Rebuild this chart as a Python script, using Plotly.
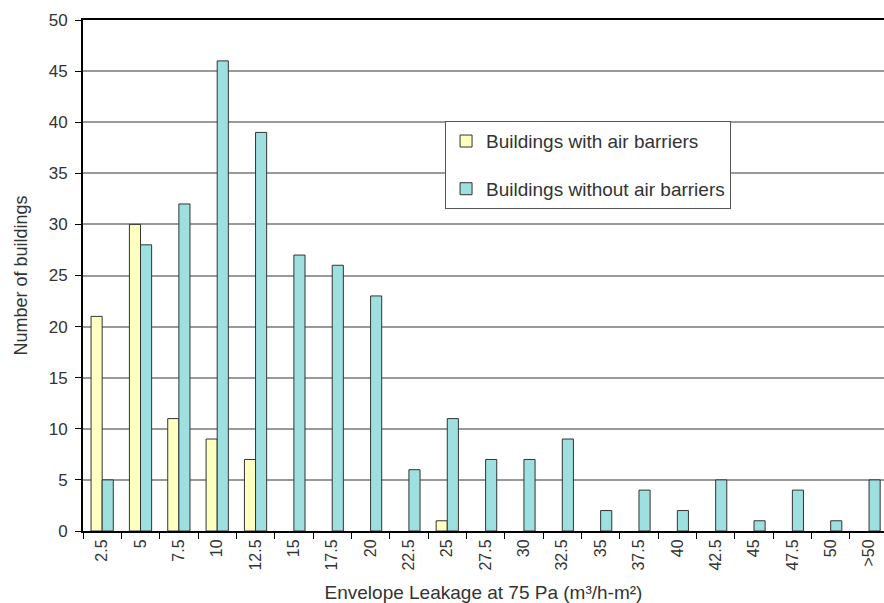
import plotly.graph_objects as go

categories = ["2.5", "5", "7.5", "10", "12.5", "15", "17.5", "20", "22.5", "25",
              "27.5", "30", "32.5", "35", "37.5", "40", "42.5", "45", "47.5", "50", ">50"]
with_barriers = [21, 30, 11, 9, 7, 0, 0, 0, 0, 1, 0, 0, 0, 0, 0, 0, 0, 0, 0, 0, 0]
without_barriers = [5, 28, 32, 46, 39, 27, 26, 23, 6, 11, 7, 7, 9, 2, 4, 2, 5, 1, 4, 1, 5]

font_family = "Liberation Sans, Arial, sans-serif"
text_color = "#333333"


def outline_widths(values):
    return [1 if v > 0 else 0 for v in values]


fig = go.Figure()
fig.add_trace(go.Bar(
    x=categories, y=with_barriers, name="Buildings with air barriers",
    marker=dict(color="#FFFFC0",
                line=dict(color="#333333", width=outline_widths(with_barriers))),
    legendgroup="a",
))
fig.add_trace(go.Bar(
    x=categories, y=without_barriers, name="Buildings without air barriers",
    marker=dict(color="#9EE0E0",
                line=dict(color="#333333", width=outline_widths(without_barriers))),
    legendgroup="b",
))

fig.update_layout(
    width=884, height=603,
    margin=dict(l=83, r=0, t=20, b=72, autoexpand=False),
    paper_bgcolor="white", plot_bgcolor="white",
    barmode="group", bargap=0.42, bargroupgap=0.0,
    font=dict(family=font_family, size=16, color=text_color),
    legend=dict(
        x=0.452, y=0.802, xanchor="left", yanchor="top",
        bgcolor="white", bordercolor="#555555", borderwidth=1,
        font=dict(size=19, color=text_color),
        traceorder="grouped", tracegroupgap=20,
    ),
    xaxis=dict(
        type="category", range=[-0.5, 20.39], automargin=False,
        showline=True, linecolor="black", linewidth=2, mirror=True,
        ticks="outside", tickson="boundaries", ticklen=6, tickcolor="black",
        tickangle=-90, showgrid=False,
        title=dict(text="Envelope Leakage at 75 Pa (m³/h-m²)", standoff=16,
                   font=dict(size=19)),
        tickfont=dict(size=16),
    ),
    yaxis=dict(
        range=[0, 50], dtick=5, automargin=False,
        showline=True, linecolor="black", linewidth=2,
        ticks="outside", ticklen=6, tickcolor="black",
        ticklabelstandoff=4,
        showgrid=True, gridcolor="#999999", gridwidth=1.5,
        zeroline=False,
        title=dict(text="Number of buildings", standoff=16, font=dict(size=18)),
        tickfont=dict(size=17),
    ),
)

fig.write_html("out.html", config={"displayModeBar": False},
               post_script="document.body.style.margin='0';")
